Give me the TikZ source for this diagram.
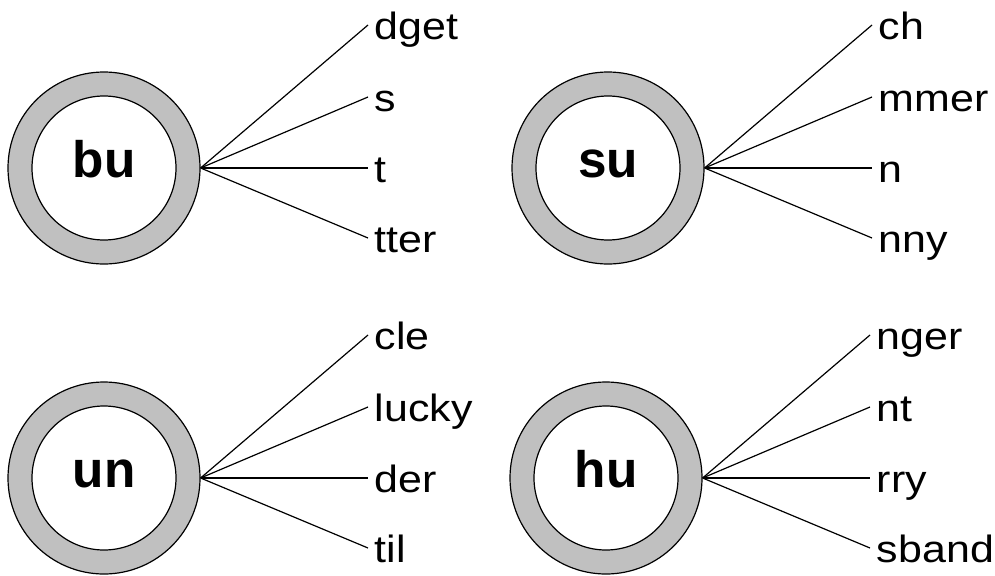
\documentclass[tikz,border=0pt]{standalone}
\usepackage{fontspec}
\setmainfont{Liberation Sans}
\newfontfamily\lblfont{Liberation Sans}[FakeStretch=1.13]
\begin{document}
\begin{tikzpicture}[x=0.75pt,y=-0.75pt,
  ring/.style={circle,draw=black,line width=0.9pt,fill={rgb,255:red,192;green,192;blue,192},minimum size=144pt,inner sep=0pt},
  hole/.style={circle,draw=black,line width=0.9pt,fill=white,minimum size=108pt,inner sep=0pt},
  stem/.style={font=\bfseries\fontsize{38.5}{40}\selectfont,inner sep=0pt,anchor=base},
  suffix/.style={font=\lblfont\fontsize{28.5}{30}\selectfont,anchor=west,inner sep=0pt,xshift=5pt,text height=28pt,text depth=7pt},
  link/.style={draw=black,line width=0.9pt}]
\useasboundingbox (0,0) rectangle (995,575);
\foreach \nm/\cx/\cy/\lx/\txt/\a/\b/\c/\d in {
  bu/104/168/368/bu/dget/s/t/tter,
  su/608/168/872/su/ch/mmer/n/nny,
  un/104/478/368/un/cle/lucky/der/til,
  hu/606/478/870/hu/nger/nt/rry/sband}{
  \node[ring] (\nm o) at (\cx,\cy) {};
  \node[hole] (\nm i) at (\cx,\cy) {};
  \node[stem] (\nm t) at (\cx,\cy+9) {\txt};
  \node[suffix] (\nm a) at (\lx,\cy-143) {\a};
  \node[suffix] (\nm b) at (\lx,\cy-71) {\b};
  \node[suffix] (\nm c) at (\lx,\cy) {\c};
  \node[suffix] (\nm d) at (\lx,\cy+70) {\d};
  \draw[link] (\nm o.east) -- ([xshift=-5pt]\nm a.west);
  \draw[link] (\nm o.east) -- ([xshift=-5pt]\nm b.west);
  \draw[link] (\nm o.east) -- ([xshift=-5pt]\nm c.west);
  \draw[link] (\nm o.east) -- ([xshift=-5pt]\nm d.west);
}
\end{tikzpicture}
\end{document}
